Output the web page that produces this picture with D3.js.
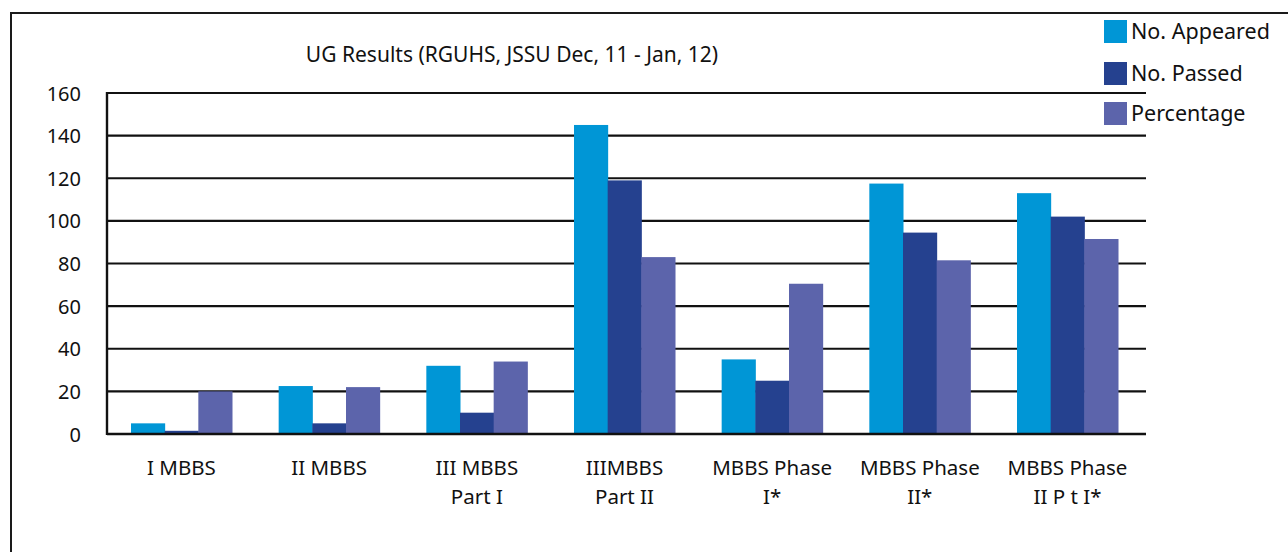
<!DOCTYPE html>
<html>
<head>
<meta charset="utf-8">
<script src="https://cdn.jsdelivr.net/npm/d3@7"></script>
<style>
  html, body { margin: 0; padding: 0; background: #fff; }
  svg { display: block; }
  text { font-family: "Noto Sans", "Open Sans", sans-serif; fill: #111; }
</style>
</head>
<body>
<svg id="chart" width="1288" height="552"></svg>
<script>
const categories = [
  ["I MBBS"],
  ["II MBBS"],
  ["III MBBS", "Part I"],
  ["IIIMBBS", "Part II"],
  ["MBBS Phase", "I*"],
  ["MBBS Phase", "II*"],
  ["MBBS Phase", "II P t I*"]
];
const seriesNames = ["No. Appeared", "No. Passed", "Percentage"];
const appeared   = [5, 22.5, 32, 145, 35, 117.5, 113];
const passed     = [1.5, 5, 10, 119, 25, 94.5, 102];
const percentage = [20, 22, 34, 83, 70.5, 81.5, 91.5];
const yTicks = [0, 20, 40, 60, 80, 100, 120, 140, 160];
const colors = ["#0096d6", "#25418f", "#5c64ab"];
const title = "UG Results (RGUHS, JSSU Dec, 11 - Jan, 12)";

const series = [appeared, passed, percentage];
const svg = d3.select("#chart");

// outer frame
svg.append("path")
  .attr("d", "M11,560 L11,13 L1300,13")
  .attr("fill", "none").attr("stroke", "#1a1a1a").attr("stroke-width", 2);

const mLeft = 107, mRight = 1146, mTop = 93, mBottom = 434;
const x0 = d3.scaleBand().domain(d3.range(categories.length)).range([mLeft, 1142]).paddingInner(0.316).paddingOuter(0.1625);
const x1 = d3.scaleBand().domain(d3.range(series.length)).range([0, x0.bandwidth()]);
const y = d3.scaleLinear().domain([0, 160]).range([mBottom, mTop]);

// grid lines
svg.append("g").selectAll("line").data(yTicks).join("line")
  .attr("x1", mLeft).attr("x2", mRight)
  .attr("y1", d => y(d)).attr("y2", d => y(d))
  .attr("stroke", "#111").attr("stroke-width", 2.2);

// bars
const groups = svg.append("g").selectAll("g").data(categories).join("g")
  .attr("transform", (d, i) => `translate(${x0(i)},0)`);
groups.selectAll("rect").data((d, i) => series.map((s, k) => ({k, v: s[i]}))).join("rect")
  .attr("x", d => x1(d.k)).attr("width", x1.bandwidth() + 0.5)
  .attr("y", d => y(d.v)).attr("height", d => y(0) - y(d.v))
  .attr("fill", d => colors[d.k]);

// baseline & y axis line
svg.append("line").attr("x1", mLeft).attr("x2", mRight).attr("y1", y(0)).attr("y2", y(0))
  .attr("stroke", "#111").attr("stroke-width", 2.6);
svg.append("line").attr("x1", mLeft).attr("x2", mLeft).attr("y1", mTop - 1).attr("y2", mBottom + 1)
  .attr("stroke", "#111").attr("stroke-width", 2.4);

// y tick labels
const yAxis = d3.axisLeft(y).tickValues(yTicks).tickSize(0).tickPadding(26);
const yg = svg.append("g").attr("transform", `translate(${mLeft},0)`).call(yAxis);
yg.select(".domain").remove();
yg.selectAll("text").attr("font-size", 20).attr("font-family", "Noto Sans, sans-serif").attr("fill", "#111").attr("dy", "0.35em");

// x category labels
const xl = svg.append("g").selectAll("text").data(categories).join("text")
  .attr("x", (d, i) => x0(i) + x0.bandwidth() / 2)
  .attr("y", 475)
  .attr("text-anchor", "middle").attr("font-size", 20.5);
xl.selectAll("tspan").data(d => d).join("tspan")
  .attr("x", function() { return d3.select(this.parentNode).attr("x"); })
  .attr("dy", (d, j) => j === 0 ? 0 : 29)
  .text(d => d);

// title
svg.append("text").attr("x", 512).attr("y", 62).attr("text-anchor", "middle")
  .attr("font-size", 21).text(title);

// legend
const leg = svg.append("g").selectAll("g").data(seriesNames).join("g")
  .attr("transform", (d, i) => `translate(1104,${[20, 62, 102][i]})`);
leg.append("rect").attr("width", 23).attr("height", 23).attr("fill", (d, i) => colors[i]);
leg.append("text").attr("x", 27).attr("y", 18.5).attr("font-size", 21.5).text(d => d);
</script>
</body>
</html>
